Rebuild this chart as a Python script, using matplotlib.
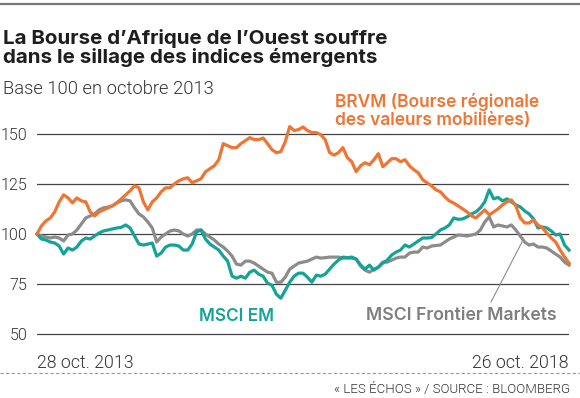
import matplotlib
matplotlib.use("Agg")
import matplotlib.pyplot as plt
from matplotlib.lines import Line2D
import pandas as pd

# ---------------- data ----------------
start_date = "2013-10-28"
end_date = "2018-10-26"
n_points = 121  # roughly semi-monthly samples

brvm = [100, 104, 106.5, 108, 111, 116, 119.5, 118, 115.5, 118,
        116.5, 116, 111, 109, 111, 112, 113, 114, 115.5, 117.5,
        119.5, 121.5, 124, 123, 116, 112, 116, 118, 121, 123,
        123, 125, 126.5, 127.5, 128, 125.5, 126.5, 127.5, 131, 132.5,
        134, 137, 145, 144, 143, 143, 145, 146.5, 148, 147,
        147, 147.8, 145, 142, 140.5, 141, 146, 153.5, 151.5, 152,
        153.3, 151.5, 150.5, 150.5, 149.5, 147, 140.5, 139.3, 140.5, 143,
        138, 136, 131, 134, 135.5, 134.5, 137, 140, 133.5, 135.4,
        137.5, 137.5, 136, 137, 134, 132, 130.5, 127, 125.5, 124,
        122, 121, 118.5, 116.5, 115.4, 114, 112.5, 111, 109, 108,
        110, 112, 109.5, 111, 112.5, 114.5, 116, 117, 114, 108,
        105.5, 105.5, 107, 104.5, 103, 100.5, 98, 96, 92, 88.5,
        85.5]

msci_frontier = [100, 99, 98.5, 98, 98.5, 98, 96.5, 99.5, 100, 102,
                 105, 108, 109, 110, 112, 113, 113.4, 114, 115.5, 116.5,
                 117, 116.5, 113, 110, 108.5, 106, 103, 96, 98.5, 100,
                 101.5, 102, 101.5, 100, 99, 100, 102, 102, 100, 98.5,
                 97, 95, 93.5, 91.5, 89, 85, 84.5, 86.5, 86.5, 85.5,
                 84, 82.5, 81, 80.5, 76, 76, 78.5, 82.5, 84, 85.5,
                 86, 86.5, 87.5, 88.5, 88, 88.2, 88.5, 88.5, 88.5, 88,
                 88, 88, 87.5, 84, 82, 81, 82.5, 83.5, 86, 86,
                 87, 88, 88.5, 88.5, 90.5, 91, 91, 93.5, 93, 94,
                 94.3, 94.5, 96, 97.5, 98.5, 99.5, 99.3, 99, 99.5, 100,
                 102, 106, 108.5, 103.5, 104.5, 104, 103.5, 104.5, 102, 99,
                 96, 94.5, 95, 93.5, 93.5, 93, 91.5, 90, 88.5, 86,
                 84.5]

msci_em = [100, 97.5, 97, 96, 95.5, 94, 90, 93, 92, 93.5,
           96.5, 98, 97.5, 99, 100.5, 101.5, 102, 102.5, 103, 103.3,
           104.5, 103, 99, 95, 94.5, 95, 95.5, 89, 90.5, 93.5,
           94.5, 94.5, 94, 92, 92, 95, 101, 102, 97.5, 95,
           93.5, 92, 89, 86.5, 79, 78, 79, 78, 81, 82,
           80, 79, 75.5, 74.5, 70, 68, 72, 76, 79, 80.5,
           80.5, 78.5, 76, 79.5, 79, 80, 82.5, 85, 87, 88.5,
           88.2, 88.5, 87.5, 84.5, 82.5, 84.5, 82, 83.5, 85.5, 87,
           89.5, 91, 92, 94.5, 93.5, 95, 96.5, 98, 98, 98.2,
           100, 102, 103, 104.5, 108, 107.3, 107.5, 108.5, 110, 111,
           113, 116, 122, 117.5, 118.2, 116.5, 117.5, 116, 114.5, 113.5,
           111.5, 110, 107.5, 103, 103.5, 103, 101.5, 99.5, 100, 94.5,
           92]

y_ticks = [50, 75, 100, 125, 150]
x_tick_labels = ["28 oct. 2013", "26 oct. 2018"]

title_lines = ["La Bourse d\u2019Afrique de l\u2019Ouest souffre",
               "dans le sillage des indices \u00e9mergents"]
subtitle = "Base 100 en octobre 2013"
brvm_label = ["BRVM (Bourse r\u00e9gionale", "des valeurs mobili\u00e8res)"]
em_label = "MSCI EM"
frontier_label = "MSCI Frontier Markets"
source = "\u00ab LES \u00c9CHOS \u00bb / SOURCE : BLOOMBERG"

# ---------------- style ----------------
ORANGE = "#EE7533"
TEAL = "#14A396"
GREY = "#8C8C8C"
GREY_TXT = "#7F7F7F"
DARK = "#1E1E1E"
TXT = "#333333"
plt.rcParams["font.family"] = ["Inter", "DejaVu Sans"]
LIGHT = ["Roboto", "DejaVu Sans"]

W, H = 580, 398
fig = plt.figure(figsize=(W / 100, H / 100), dpi=100)


def fx(px):
    return px / W


def fy(py):
    return 1 - py / H


# axes placed in pixel terms
ax_left, ax_right = 37, 569
y_lo, y_hi = 49, 160
px_per_unit = 50.2 / 25
ax_top = 234 - (y_hi - 100) * px_per_unit
ax_bot = 234 + (100 - y_lo) * px_per_unit
ax = fig.add_axes([fx(ax_left), fy(ax_bot), fx(ax_right - ax_left), (ax_bot - ax_top) / H])

dates = pd.date_range(start_date, end_date, periods=n_points)
ax.plot(dates, msci_frontier, color=GREY, lw=2.3, zorder=3, clip_on=False, solid_joinstyle="round")
ax.plot(dates, msci_em, color=TEAL, lw=2.3, zorder=4, clip_on=False, solid_joinstyle="round")
ax.plot(dates, brvm, color=ORANGE, lw=2.3, zorder=5, clip_on=False, solid_joinstyle="round")

ax.set_xlim(dates[0], dates[-1])
ax.set_ylim(y_lo, y_hi)
for s in ax.spines.values():
    s.set_visible(False)
ax.set_yticks(y_ticks)
ax.set_yticklabels([str(v) for v in y_ticks])
ax.yaxis.grid(True, color="#444444", lw=0.9)
ax.set_axisbelow(True)
ax.tick_params(axis="y", length=0, pad=7, labelsize=11.6, labelcolor=TXT)
for lab in ax.get_yticklabels():
    lab.set_fontfamily(LIGHT)
    lab.set_fontweight(300)

ax.set_xticks([dates[0], dates[-1]])
ax.set_xticklabels(x_tick_labels)
ax.tick_params(axis="x", length=0, pad=13, labelsize=12.8, labelcolor=TXT)
xl = ax.get_xticklabels()
xl[0].set_horizontalalignment("left")
xl[1].set_horizontalalignment("right")
for lab in xl:
    lab.set_fontfamily(LIGHT)
    lab.set_fontweight(300)

# ---------------- texts ----------------
fig.add_artist(Line2D([0, 1], [fy(3.5), fy(3.5)], transform=fig.transFigure, color="#777777", lw=1.6))
for line, base in zip(title_lines, [44, 63]):
    fig.text(fx(3), fy(base), line, fontsize=14.8, fontweight="bold", color=DARK,
             va="baseline", ha="left")
fig.text(fx(3), fy(94), subtitle, fontsize=13.2, fontweight=300, family=LIGHT, color=TXT,
         va="baseline")

for line, base in zip(brvm_label, [107, 125]):
    fig.text(fx(335), fy(base), line, fontsize=12.5, fontweight="semibold", color=ORANGE,
             va="baseline", ha="left")
fig.text(fx(199), fy(321), em_label, fontsize=12.4, fontweight="semibold", color=TEAL, va="baseline")
fig.text(fx(366), fy(320), frontier_label, fontsize=12.7, fontweight="semibold",
         color=GREY_TXT, va="baseline")
fig.add_artist(Line2D([fx(491), fx(522)], [fy(302), fy(242)], transform=fig.transFigure,
                      color="#8C8C8C", lw=0.8))

fig.add_artist(Line2D([0, 1], [fy(373), fy(373)], transform=fig.transFigure, color="#999999",
                      lw=0.8, dashes=(3, 2)))
fig.text(fx(570), fy(393), source, fontsize=9.5, fontweight=300, family=LIGHT, color=TXT,
         ha="right", va="baseline")

fig.savefig("out.png", dpi=100)
